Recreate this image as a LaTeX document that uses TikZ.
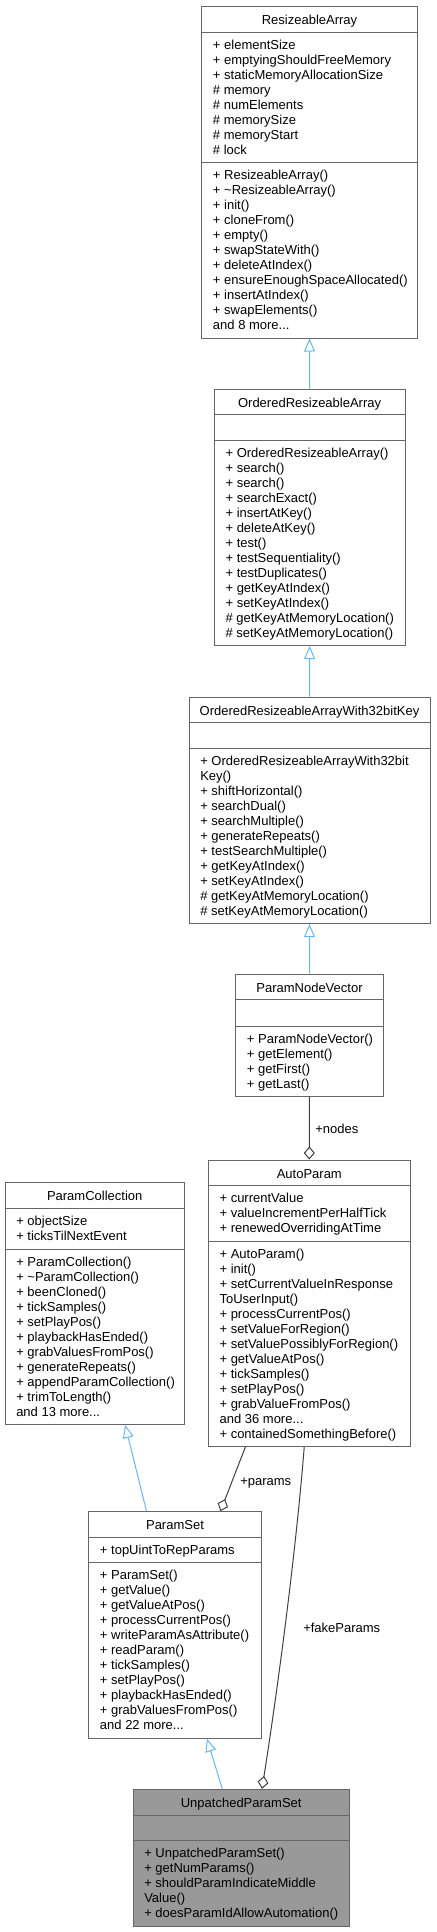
\documentclass[tikz,border=0pt]{standalone}
\usepackage{fontspec}
\setmainfont{Liberation Sans}
\usetikzlibrary{arrows.meta,fit,calc}
\definecolor{boxgray}{HTML}{666666}
\definecolor{inhblue}{HTML}{63B8FF}
\definecolor{linkgray}{HTML}{404040}
\definecolor{curgray}{HTML}{999999}
\newcommand{\moredots}{...}

\begin{document}
\begin{tikzpicture}[x=0.75pt,y=-0.75pt,
  box/.style={draw=boxgray,line width=0.75pt,fill=white,inner sep=0pt},
  sep/.style={draw=boxgray,line width=0.75pt},
  title/.style={anchor=base,inner sep=0pt,font=\fontsize{9.75}{11.25}\selectfont},
  member/.style={anchor=base west,inner sep=0pt,font=\fontsize{9.75}{11.25}\selectfont},
  inherit/.style={draw=inhblue,line width=0.75pt,-{Triangle[open,length=9.75pt,width=8.25pt]}},
  aggr/.style={draw=linkgray,line width=0.75pt,-{Diamond[open,length=9.75pt,width=8.25pt]}}]
\useasboundingbox (0,0) rectangle (436,1932);

% ResizeableArray
\node[box,fit={(201.7,6) (417.3,338)}] (ra) {};
\node[title] (ra-t) at (309.5,24) {ResizeableArray};
\draw[sep] (201.7,32) -- (417.3,32) (201.7,162.5) -- (417.3,162.5);
\foreach \t [count=\i from 0] in {+ elementSize, + emptyingShouldFreeMemory, + staticMemoryAllocationSize, \# memory, \# numElements, \# memorySize, \# memoryStart, \# lock}
  \node[member] (ra-a\i) at (212.7,49+15*\i) {\t};
\foreach \t [count=\i from 0] in {+ ResizeableArray(), + \textasciitilde ResizeableArray(), + init(), + cloneFrom(), + empty(), + swapStateWith(), + deleteAtIndex(), + ensureEnoughSpaceAllocated(), + insertAtIndex(), + swapElements(), and 8 more\moredots}
  \node[member] (ra-m\i) at (212.7,179.5+15*\i) {\t};

% OrderedResizeableArray
\node[box,fit={(214.3,389) (405,645.5)}] (ora) {};
\node[title] (ora-t) at (309.6,407) {OrderedResizeableArray};
\draw[sep] (214.3,414) -- (405,414) (214.3,440) -- (405,440);
\foreach \t [count=\i from 0] in {+ OrderedResizeableArray(), + search(), + search(), + searchExact(), + insertAtKey(), + deleteAtKey(), + test(), + testSequentiality(), + testDuplicates(), + getKeyAtIndex(), + setKeyAtIndex(), \# getKeyAtMemoryLocation(), \# setKeyAtMemoryLocation()}
  \node[member] (ora-m\i) at (225.3,457+15*\i) {\t};

% OrderedResizeableArrayWith32bitKey
\node[box,fit={(189,697) (430,923.5)}] (ora32) {};
\node[title] (ora32-t) at (309.5,715) {OrderedResizeableArrayWith32bitKey};
\draw[sep] (189,722) -- (430,722) (189,748) -- (430,748);
\foreach \t [count=\i from 0] in {+ OrderedResizeableArrayWith32bit, Key(), + shiftHorizontal(), + searchDual(), + searchMultiple(), + generateRepeats(), + testSearchMultiple(), + getKeyAtIndex(), + setKeyAtIndex(), \# getKeyAtMemoryLocation(), \# setKeyAtMemoryLocation()}
  \node[member] (ora32-m\i) at (200,765+15*\i) {\t};

% ParamNodeVector
\node[box,fit={(235.7,974) (383.3,1096)}] (pnv) {};
\node[title] (pnv-t) at (309.5,992) {ParamNodeVector};
\draw[sep] (235.7,999.5) -- (383.3,999.5) (235.7,1026) -- (383.3,1026);
\foreach \t [count=\i from 0] in {+ ParamNodeVector(), + getElement(), + getFirst(), + getLast()}
  \node[member] (pnv-m\i) at (246.7,1043+15*\i) {\t};

% AutoParam
\node[box,fit={(208.3,1160) (410.3,1446.5)}] (ap) {};
\node[title] (ap-t) at (309.3,1178) {AutoParam};
\draw[sep] (208.3,1185.7) -- (410.3,1185.7) (208.3,1241) -- (410.3,1241);
\foreach \t [count=\i from 0] in {+ currentValue, + valueIncrementPerHalfTick, + renewedOverridingAtTime}
  \node[member] (ap-a\i) at (219.3,1202.7+15*\i) {\t};
\foreach \t [count=\i from 0] in {+ AutoParam(), + init(), + setCurrentValueInResponse, ToUserInput(), + processCurrentPos(), + setValueForRegion(), + setValuePossiblyForRegion(), + getValueAtPos(), + tickSamples(), + setPlayPos(), + grabValueFromPos(), and 36 more\moredots, + containedSomethingBefore()}
  \node[member] (ap-m\i) at (219.3,1258+15*\i) {\t};

% ParamCollection
\node[box,fit={(5,1182.7) (184.3,1424.5)}] (pc) {};
\node[title] (pc-t) at (94.7,1200.7) {ParamCollection};
\draw[sep] (5,1208.3) -- (184.3,1208.3) (5,1249) -- (184.3,1249);
\foreach \t [count=\i from 0] in {+ objectSize, + ticksTilNextEvent}
  \node[member] (pc-a\i) at (16,1225.3+15*\i) {\t};
\foreach \t [count=\i from 0] in {+ ParamCollection(), + \textasciitilde ParamCollection(), + beenCloned(), + tickSamples(), + setPlayPos(), + playbackHasEnded(), + grabValuesFromPos(), + generateRepeats(), + appendParamCollection(), + trimToLength(), and 13 more\moredots}
  \node[member] (pc-m\i) at (16,1266+15*\i) {\t};

% ParamSet
\node[box,fit={(88.7,1511.7) (261.3,1738.2)}] (ps) {};
\node[title] (ps-t) at (175,1529.7) {ParamSet};
\draw[sep] (88.7,1537.3) -- (261.3,1537.3) (88.7,1562.7) -- (261.3,1562.7);
\node[member] (ps-a0) at (99.7,1554.3) {+ topUintToRepParams};
\foreach \t [count=\i from 0] in {+ ParamSet(), + getValue(), + getValueAtPos(), + processCurrentPos(), + writeParamAsAttribute(), + readParam(), + tickSamples(), + setPlayPos(), + playbackHasEnded(), + grabValuesFromPos(), and 22 more\moredots}
  \node[member] (ps-m\i) at (99.7,1579.7+15*\i) {\t};

% UnpatchedParamSet
\node[box,fill=curgray,fit={(133,1789.3) (349.3,1926)}] (ups) {};
\node[title] (ups-t) at (241.2,1807.3) {UnpatchedParamSet};
\draw[sep] (133,1815) -- (349.3,1815) (133,1840.7) -- (349.3,1840.7);
\foreach \t [count=\i from 0] in {+ UnpatchedParamSet(), + getNumParams(), + shouldParamIndicateMiddle, Value(), + doesParamIdAllowAutomation()}
  \node[member] (ups-m\i) at (144,1857.7+15*\i) {\t};

% inheritance
\draw[inherit] (ora.north) -- (ra.south);
\draw[inherit] (ora32.north) -- (ora.south);
\draw[inherit] (pnv.north) -- (ora32.south);
\draw[inherit] ($(ps.north west)!0.336!(ps.north east)$) -- ($(pc.south west)!0.669!(pc.south east)$);
\draw[inherit] ($(ups.north west)!0.413!(ups.north east)$) -- ($(ps.south west)!0.684!(ps.south east)$);

% members
\draw[aggr] (pnv.south) -- (ap.north);
\node[member] (nodes) at (315,1133) {+nodes};
\draw[aggr] ($(ap.south west)!0.185!(ap.south east)$) -- ($(ps.north west)!0.762!(ps.north east)$);
\node[member] (params) at (240,1485.5) {+params};
\draw[aggr] ($(ap.south west)!0.475!(ap.south east)$) .. controls +(-9,113) and +(14,-89) .. ($(ups.north west)!0.596!(ups.north east)$);
\node[member] (fake) at (303,1632.5) {+fakeParams};
\end{tikzpicture}
\end{document}
